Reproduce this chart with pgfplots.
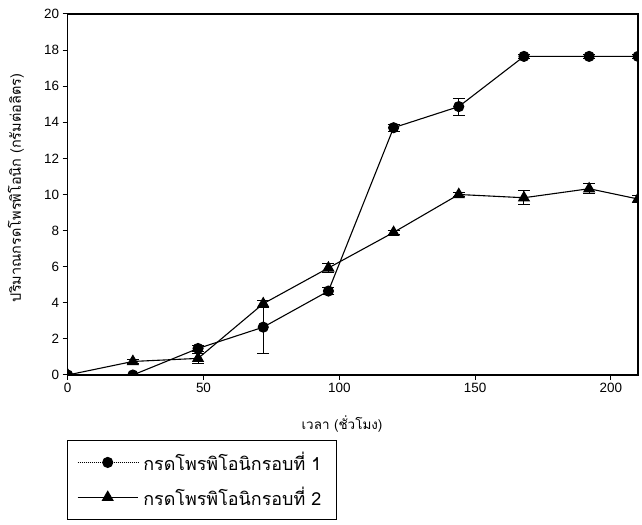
\documentclass[border=0pt]{standalone}
\usepackage{fontspec}
\setmainfont{Liberation Sans}
\newfontfamily\thaifont[Script=Thai]{Loma}
\usepackage{pgfplots}
\pgfplotsset{compat=1.18}
\begin{document}
\begin{tikzpicture}[x=1bp,y=1bp]
\useasboundingbox (0,0) rectangle (642,525);
\begin{axis}[
  at={(67.7bp,150bp)}, anchor=south west,
  scale only axis, width=570.3bp, height=361bp,
  xmin=0, xmax=210, ymin=0, ymax=20,
  xtick={0,50,...,200}, ytick={0,2,...,20},
  tick align=outside, xtick pos=bottom, ytick pos=left,
  major tick length=5bp,
  axis line style={line width=1.2bp},
  tick style={line width=1bp, black},
  tick label style={font=\fontsize{13.5}{15}\selectfont},
  /pgf/number format/assume math mode=true,
  xlabel={\thaifont เวลา (ชั่วโมง)},
  xlabel style={at={(axis description cs:0.481,-0.1357)}, anchor=center, font=\fontsize{13.5}{15}\selectfont},
  ylabel={\thaifont ปริมาณกรดโพรพิโอนิก (กรัมต่อลิตร)},
  ylabel style={at={(axis description cs:-0.0907,0.518)}, anchor=center, font=\fontsize{14.5}{16}\selectfont},
  legend style={at={(axis description cs:-0.0018,-0.18)}, anchor=north west,
    draw=black, line width=1bp, fill=white,
    font=\thaifont\fontsize{18}{20}\selectfont,
    inner xsep=10bp, inner ysep=10bp, row sep=11bp,
    nodes={inner xsep=5bp}},
  legend cell align=left,
  legend image code/.code={\draw[mark repeat=2,mark phase=2,#1] plot coordinates {(0bp,0bp) (30bp,0bp) (60bp,0bp)};},
  clip marker paths=true,
]
\addplot[black, line width=1.1bp, mark=*, mark size=5bp, mark options={solid, fill=black},
  legend image code/.code={\draw[black, line width=1bp, densely dotted] (0bp,0bp) -- (60bp,0bp); \fill[black] (30bp,0bp) circle (5bp);},
  error bars/.cd, y dir=both, y explicit,
  error bar style={line width=1bp, solid, black},
  error mark options={rotate=90, mark size=6bp, line width=1bp, solid, black}]
  coordinates {
  (0,0) +- (0,0)
  (24,0) +- (0,0)
  (48,1.47) +- (0,0.15)
  (72,2.65) +- (0,1.45)
  (96,4.65) +- (0,0.2)
  (120,13.7) +- (0,0.2)
  (144,14.87) +- (0,0.47)
  (168,17.65) +- (0,0.1)
  (192,17.65) +- (0,0.1)
  (210,17.65) +- (0,0.1)
};
\addlegendentry{กรดโพรพิโอนิกรอบที่ 1}
\addplot[black, line width=1.1bp, mark=triangle*, mark size=6bp, mark options={solid, fill=black},
  error bars/.cd, y dir=both, y explicit,
  error bar style={line width=1bp, solid, black},
  error mark options={rotate=90, mark size=6bp, line width=1bp, solid, black}]
  coordinates {
  (0,0) +- (0,0)
  (24,0.75) +- (0,0.12)
  (48,0.92) +- (0,0.27)
  (72,3.95) +- (0,0.2)
  (96,5.93) +- (0,0.25)
  (120,7.9) +- (0,0.1)
  (144,10.0) +- (0,0.1)
  (168,9.82) +- (0,0.38)
  (192,10.32) +- (0,0.28)
  (210,9.75) +- (0,0.2)
};
\addlegendentry{กรดโพรพิโอนิกรอบที่ 2}
\end{axis}
\end{tikzpicture}
\end{document}
